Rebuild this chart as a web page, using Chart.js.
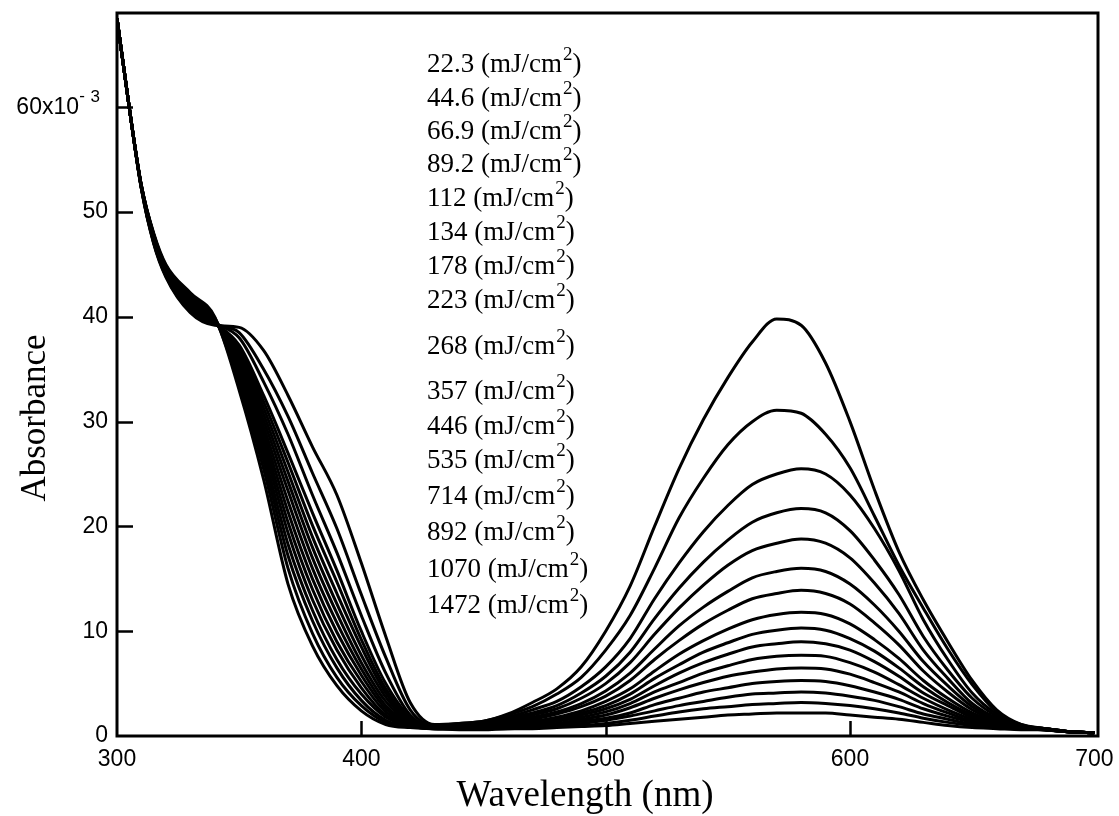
<!DOCTYPE html>
<html>
<head>
<meta charset="utf-8">
<script src="https://cdn.jsdelivr.net/npm/chart.js@4.4.1/dist/chart.umd.min.js"></script>
<style>
  html, body { margin: 0; padding: 0; background: #fff; }
</style>
</head>
<body>
<canvas id="graphics" width="1119" height="816"></canvas>
<script>
// wavelength grid (nm)
const wavelengths = [300, 305, 310, 315, 320, 330, 340, 350, 360, 370, 380, 390, 400, 410, 420, 430,
  440, 450, 460, 470, 480, 490, 500, 510, 520, 530, 540, 550, 560, 570, 580, 590, 600, 610, 620, 630,
  640, 650, 660, 670, 680, 690, 700];

// absorbance (x10^-3) for each exposure dose
const dose22_3 = [68.5, 60.0, 52.5, 48.0, 45.0, 42.3, 40.0, 33.0, 24.5, 14.5, 8.6, 4.8, 2.4, 1.1, 0.8, 0.7,
  0.6, 0.6, 0.7, 0.7, 0.8, 0.9, 1.0, 1.2, 1.4, 1.6, 1.8, 2.0, 2.1, 2.2, 2.2, 2.2, 2.0, 1.8, 1.6, 1.3, 1.0, 0.8, 0.7, 0.6, 0.6, 0.4, 0.3];
const dose44_6 = [68.5, 60.0, 52.5, 47.9, 44.9, 42.2, 39.9, 33.5, 25.5, 16.0, 9.8, 5.6, 2.9, 1.3, 0.9, 0.7,
  0.7, 0.7, 0.7, 0.8, 0.9, 1.0, 1.2, 1.5, 1.9, 2.3, 2.6, 2.8, 3.0, 3.1, 3.2, 3.1, 2.9, 2.6, 2.2, 1.7, 1.3, 1.0, 0.8, 0.7, 0.6, 0.4, 0.3];
const dose66_9 = [68.5, 60.0, 52.5, 47.9, 44.8, 42.0, 39.9, 34.0, 26.3, 17.2, 11.0, 6.5, 3.4, 1.5, 0.9, 0.7,
  0.7, 0.7, 0.8, 0.9, 1.0, 1.2, 1.5, 1.9, 2.4, 2.9, 3.3, 3.7, 4.0, 4.1, 4.2, 4.1, 3.8, 3.4, 2.8, 2.1, 1.6, 1.1, 0.8, 0.7, 0.6, 0.4, 0.3];
const dose89_2 = [68.5, 60.0, 52.5, 47.8, 44.7, 41.9, 39.8, 34.4, 27.0, 18.3, 12.0, 7.3, 4.0, 1.8, 1.0, 0.7,
  0.7, 0.7, 0.8, 1.0, 1.1, 1.4, 1.7, 2.2, 3.0, 3.6, 4.2, 4.6, 5.0, 5.2, 5.3, 5.2, 4.8, 4.2, 3.5, 2.6, 1.9, 1.3, 0.9, 0.7, 0.6, 0.4, 0.3];
const dose112 = [68.5, 60.0, 52.5, 47.7, 44.6, 41.7, 39.8, 34.8, 27.7, 19.4, 13.0, 8.2, 4.6, 2.0, 1.0, 0.8,
  0.7, 0.8, 0.9, 1.0, 1.2, 1.6, 2.0, 2.7, 3.6, 4.4, 5.1, 5.7, 6.1, 6.4, 6.5, 6.4, 5.9, 5.1, 4.2, 3.1, 2.2, 1.4, 1.0, 0.7, 0.6, 0.4, 0.3];
const dose134 = [68.5, 60.0, 52.4, 47.7, 44.5, 41.6, 39.7, 35.2, 28.3, 20.4, 14.0, 9.0, 5.2, 2.3, 1.1, 0.8,
  0.7, 0.8, 1.0, 1.1, 1.4, 1.8, 2.3, 3.1, 4.2, 5.1, 6.0, 6.7, 7.3, 7.6, 7.7, 7.6, 7.0, 6.1, 4.9, 3.6, 2.5, 1.6, 1.0, 0.7, 0.6, 0.4, 0.3];
const dose178 = [68.5, 60.0, 52.4, 47.6, 44.4, 41.4, 39.7, 35.5, 28.9, 21.4, 15.0, 9.9, 5.8, 2.6, 1.2, 0.8,
  0.8, 0.9, 1.0, 1.2, 1.5, 2.0, 2.6, 3.5, 4.8, 6.0, 7.0, 7.8, 8.5, 8.8, 9.0, 8.8, 8.2, 7.1, 5.7, 4.1, 2.9, 1.8, 1.1, 0.8, 0.6, 0.4, 0.3];
const dose223 = [68.5, 60.0, 52.4, 47.5, 44.4, 41.3, 39.6, 35.8, 29.5, 22.4, 16.0, 10.8, 6.4, 2.9, 1.2, 0.8,
  0.8, 0.9, 1.1, 1.3, 1.7, 2.2, 2.9, 4.0, 5.5, 6.8, 8.0, 8.9, 9.7, 10.1, 10.3, 10.1, 9.3, 8.1, 6.5, 4.7, 3.2, 2.0, 1.2, 0.8, 0.7, 0.4, 0.3];
const dose268 = [68.5, 60.0, 52.4, 47.5, 44.3, 41.2, 39.6, 36.1, 30.1, 23.4, 17.0, 11.7, 7.0, 3.3, 1.3, 0.8,
  0.8, 0.9, 1.2, 1.4, 1.8, 2.4, 3.3, 4.5, 6.2, 7.8, 9.1, 10.2, 11.1, 11.6, 11.8, 11.6, 10.7, 9.2, 7.4, 5.3, 3.6, 2.2, 1.3, 0.8, 0.7, 0.4, 0.3];
const dose357 = [68.5, 60.0, 52.3, 47.4, 44.2, 41.0, 39.5, 36.4, 30.7, 24.3, 18.0, 12.6, 7.7, 3.7, 1.4, 0.9,
  0.9, 1.0, 1.3, 1.6, 2.1, 2.8, 3.8, 5.3, 7.3, 9.1, 10.7, 12.0, 13.1, 13.6, 13.9, 13.6, 12.6, 10.8, 8.7, 6.2, 4.2, 2.5, 1.4, 0.9, 0.7, 0.4, 0.3];
const dose446 = [68.5, 60.0, 52.3, 47.3, 44.2, 40.9, 39.5, 36.7, 31.3, 25.2, 19.0, 13.6, 8.5, 4.1, 1.5, 0.9,
  0.9, 1.1, 1.4, 1.8, 2.3, 3.1, 4.3, 6.0, 8.3, 10.5, 12.3, 13.8, 15.1, 15.7, 16.0, 15.7, 14.5, 12.5, 10.0, 7.1, 4.8, 2.8, 1.5, 0.9, 0.7, 0.4, 0.3];
const dose535 = [68.5, 60.0, 52.3, 47.3, 44.1, 40.8, 39.4, 37.0, 31.9, 26.1, 20.1, 14.7, 9.2, 4.5, 1.6, 0.9,
  1.0, 1.1, 1.5, 2.0, 2.6, 3.6, 5.0, 7.0, 9.7, 12.2, 14.4, 16.3, 17.7, 18.4, 18.8, 18.4, 17.0, 14.6, 11.7, 8.2, 5.5, 3.1, 1.7, 1.0, 0.7, 0.4, 0.3];
const dose714 = [68.5, 60.0, 52.3, 47.2, 44.0, 40.7, 39.4, 37.3, 32.5, 27.0, 21.3, 15.8, 10.0, 5.0, 1.8, 0.9,
  1.0, 1.2, 1.7, 2.2, 2.9, 4.1, 5.7, 8.0, 11.2, 14.1, 16.6, 18.7, 20.4, 21.3, 21.7, 21.3, 19.6, 16.8, 13.5, 9.5, 6.3, 3.6, 1.9, 1.0, 0.7, 0.4, 0.3];
const dose892 = [68.5, 60.0, 52.2, 47.1, 44.0, 40.6, 39.4, 38.0, 33.8, 28.8, 23.0, 17.5, 11.5, 6.0, 2.0, 0.9,
  1.1, 1.3, 1.8, 2.5, 3.3, 4.7, 6.6, 9.3, 13.1, 16.5, 19.5, 22.0, 24.0, 25.0, 25.5, 25.0, 23.0, 19.8, 15.8, 11.1, 7.3, 4.1, 2.1, 1.1, 0.7, 0.4, 0.3];
const dose1070 = [68.5, 60.0, 52.2, 47.1, 43.9, 40.5, 39.3, 38.5, 35.0, 30.5, 25.1, 19.8, 13.5, 7.5, 2.5, 1.0,
  1.2, 1.4, 2.0, 2.8, 4.0, 5.6, 8.2, 11.5, 16.0, 20.8, 24.6, 27.8, 30.0, 31.1, 30.8, 28.8, 25.6, 21.0, 16.3, 12.2, 8.3, 4.9, 2.3, 1.0, 0.6, 0.4, 0.3];
const dose1472 = [68.5, 60.0, 52.2, 47.0, 43.8, 40.4, 39.2, 39.0, 36.8, 32.5, 27.6, 23.0, 16.5, 9.5, 3.2, 1.1,
  1.2, 1.4, 2.1, 3.2, 4.5, 6.6, 10.0, 14.3, 20.0, 25.5, 30.2, 34.2, 37.6, 39.8, 39.2, 35.6, 30.0, 23.5, 17.6, 13.0, 9.0, 5.3, 2.5, 1.1, 0.6, 0.4, 0.3];

const doseLabels = ['22.3', '44.6', '66.9', '89.2', '112', '134', '178', '223',
  '268', '357', '446', '535', '714', '892', '1070', '1472'];
const doseSeries = [dose22_3, dose44_6, dose66_9, dose89_2, dose112, dose134, dose178, dose223,
  dose268, dose357, dose446, dose535, dose714, dose892, dose1070, dose1472];

const xTicks = [300, 400, 500, 600, 700];
const yTicks = [0, 10, 20, 30, 40, 50, 60];

const labelTop = [63, 97, 130, 163, 197, 231, 265, 299, 345, 390, 425, 459, 495, 531, 568, 604];

const sansFont = '"Liberation Sans", Arial, sans-serif';
const serifFont = '"Liberation Serif", "Times New Roman", serif';

const framePlugin = {
  id: 'frame',
  afterDraw(chart) {
    const ctx = chart.ctx;
    const a = chart.chartArea;
    const x = chart.scales.x;
    const y = chart.scales.y;
    ctx.save();
    ctx.strokeStyle = '#000';
    ctx.lineWidth = 3;
    ctx.strokeRect(a.left, a.top, a.right - a.left, a.bottom - a.top);

    // inward tick marks
    ctx.lineWidth = 2.5;
    ctx.beginPath();
    yTicks.slice(1).forEach(v => {
      const py = Math.round(y.getPixelForValue(v)) + 0.5;
      ctx.moveTo(a.left, py);
      ctx.lineTo(a.left + 16, py);
    });
    xTicks.slice(1, -1).forEach(v => {
      const px = Math.round(x.getPixelForValue(v)) + 0.5;
      ctx.moveTo(px, a.bottom);
      ctx.lineTo(px, a.bottom - 15);
    });
    ctx.stroke();

    // top y label with exponent
    ctx.fillStyle = '#000';
    ctx.textBaseline = 'middle';
    ctx.textAlign = 'right';
    const py60 = y.getPixelForValue(60);
    ctx.font = '17px ' + sansFont;
    ctx.fillText('3', 100, py60 - 10);
    ctx.fillText('-', 85, py60 - 11);
    ctx.font = '23px ' + sansFont;
    ctx.fillText('60x10', 79, py60);

    // dose labels
    ctx.textAlign = 'left';
    ctx.textBaseline = 'alphabetic';
    doseLabels.forEach((d, i) => {
      const base = labelTop[i] + 9;
      ctx.font = '27px ' + serifFont;
      const main = d + ' (mJ/cm';
      ctx.fillText(main, 427, base);
      let w = ctx.measureText(main).width;
      ctx.font = '19px ' + serifFont;
      ctx.fillText('2', 427 + w + 1, base - 12);
      w += ctx.measureText('2').width + 1;
      ctx.font = '27px ' + serifFont;
      ctx.fillText(')', 427 + w, base);
    });

    // axis titles
    ctx.textAlign = 'center';
    ctx.font = '37px ' + serifFont;
    ctx.fillText('Wavelength (nm)', 585, 806);
    ctx.font = '35px ' + serifFont;
    ctx.translate(45, 418);
    ctx.rotate(-Math.PI / 2);
    ctx.fillText('Absorbance', 0, 0);
    ctx.restore();
  }
};

const datasets = doseSeries.map((s, i) => ({
  label: doseLabels[i] + ' (mJ/cm2)',
  data: s.map((v, j) => ({ x: wavelengths[j], y: v })),
  borderColor: '#000',
  borderWidth: 3,
  pointRadius: 0,
  fill: false,
  cubicInterpolationMode: 'monotone'
}));

new Chart(document.getElementById('graphics').getContext('2d'), {
  type: 'line',
  data: { datasets: datasets },
  plugins: [framePlugin],
  options: {
    responsive: false,
    animation: false,
    devicePixelRatio: 1,
    layout: { padding: { top: 13, right: 21, left: 0, bottom: 0 } },
    plugins: { legend: { display: false }, tooltip: { enabled: false } },
    scales: {
      x: {
        type: 'linear',
        min: 300,
        max: 701.5,
        afterBuildTicks: s => { s.ticks = xTicks.map(v => ({ value: v })); },
        afterFit: s => { s.height = 80; s.paddingLeft = 0; s.paddingRight = 0; },
        grid: { display: false, drawTicks: false },
        border: { display: false },
        ticks: {
          color: '#000',
          padding: 10,
          maxRotation: 0,
          font: { family: sansFont, size: 23 }
        }
      },
      y: {
        type: 'linear',
        min: 0,
        max: 69,
        afterBuildTicks: s => { s.ticks = yTicks.map(v => ({ value: v })); },
        afterFit: s => { s.width = 117; s.paddingTop = 0; s.paddingBottom = 0; },
        grid: { display: false, drawTicks: false },
        border: { display: false },
        ticks: {
          color: '#000',
          padding: 9,
          callback: v => (v === 60 ? '' : String(v)),
          font: { family: sansFont, size: 23 }
        }
      }
    }
  }
});
</script>
</body>
</html>
